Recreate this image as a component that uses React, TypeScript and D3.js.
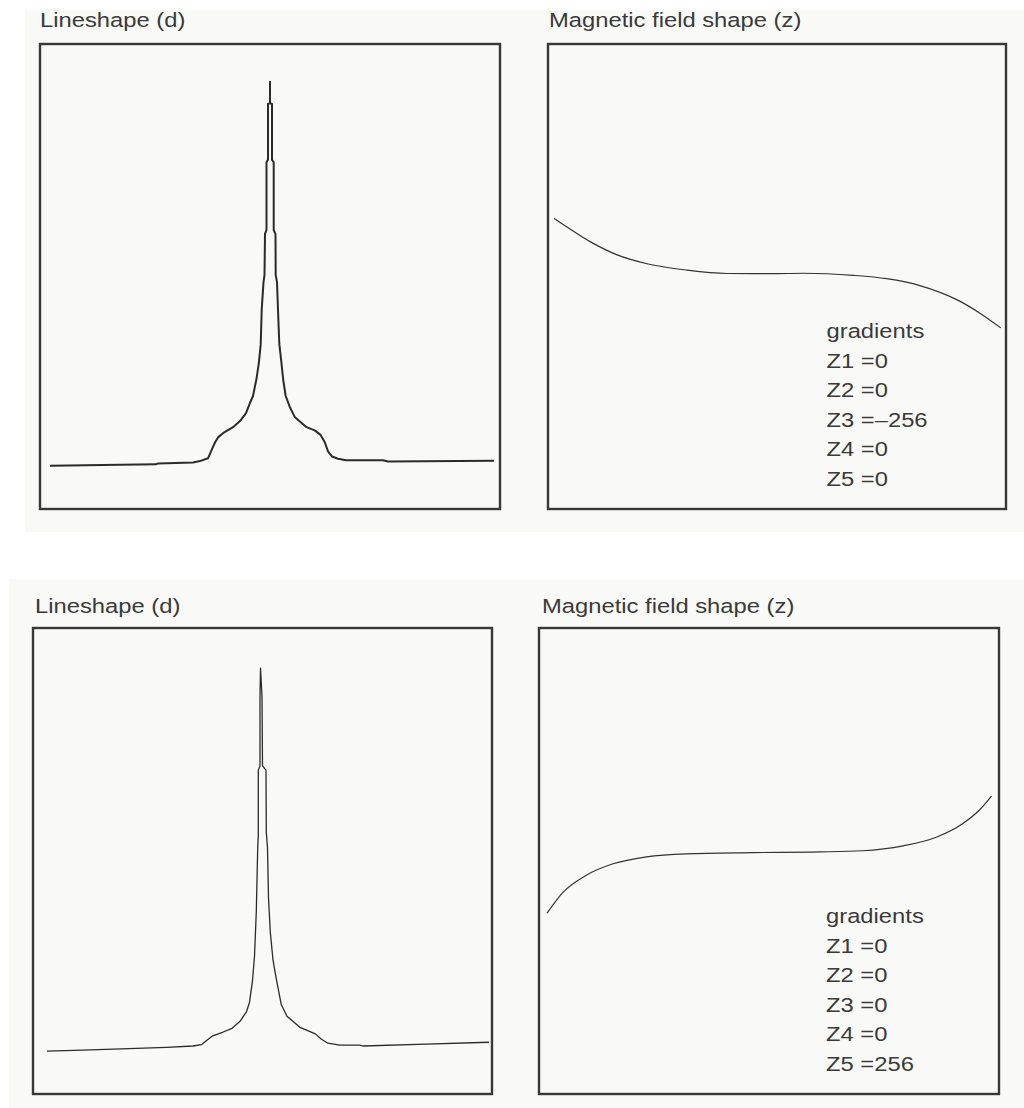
import React from "react";
import * as d3 from "d3";

// ---- Data ----
// Top lineshape (frequency offset, intensity %)
const freqTop = [-220,-114,-112,-77,-70,-62,-59,-55,-52,-47,-37,-30,-24,-20,-17,-13.5,-11,-9.3,-8.3,-6.5,-5.5,-5,-3.5,-3.5,-2,-2,0,0,0,2,2,3.7,3.7,5.5,5.7,7,8,9.3,11.3,13.2,15.7,19.7,24.7,36.5,44.7,50.3,54.7,58,62,68,76,113,118,224];
const intTop = [9.3,9.6,9.8,10.0,10.3,10.9,12.4,14.3,15.4,16.3,17.6,18.9,20.6,22.8,24.3,28.0,31.7,35.4,42.8,48.8,50.3,59.2,60.0,74.6,75.1,87.1,87.3,91.9,87.3,87.1,75.1,74.6,60.0,59.1,50.3,48.8,42.8,35.5,31.7,27.8,24.3,22.0,19.8,17.6,16.9,16.0,14.4,12.4,11.3,10.8,10.5,10.5,10.2,10.4];

// Bottom lineshape
const freqBottom = [-216,-180,-96,-69.5,-61,-56,-50.5,-39.5,-30.5,-22.5,-16,-13,-10,-8,-6.2,-4.8,-4.2,-4.2,-2.5,-2.5,-2,-0.5,0,3.5,3.8,5,6,7.8,10.5,13.5,18.8,24.5,37.5,53,58.8,65.5,77.5,97.5,100.5,164,227];
const intBottom = [9.2,9.4,10.0,10.3,10.6,11.5,12.4,13.3,14.1,15.6,17.7,19.7,24.4,29.6,39.2,52.9,55.5,69.5,70.4,85.3,91.4,85.3,70.4,69.5,56.2,52.9,42.1,34.8,28.8,25.1,19.2,16.7,14.3,12.9,11.8,10.9,10.5,10.5,10.3,10.7,11.1];

// Magnetic field shape (position, field)
const posTop = [-0.974,-0.894,-0.816,-0.698,-0.568,-0.393,-0.218,-0.03,0.115,0.333,0.479,0.624,0.798,0.886,0.977];
const fieldTop = [25.0,19.8,15.0,9.3,5.5,2.75,1.3,1.2,1.4,0.5,-0.95,-3.9,-10.6,-15.8,-22.1];

const posBottom = [-0.965,-0.896,-0.794,-0.678,-0.533,-0.36,-0.07,0.22,0.406,0.583,0.727,0.843,0.916,0.967];
const fieldBottom = [-22.4,-13.5,-6.1,-1.2,1.8,3.1,3.6,3.9,4.4,6.5,10.2,16.1,22.0,27.9];

// Gradient labels
const gradientNames = ["Z1", "Z2", "Z3", "Z4", "Z5"];
const gradientsTop = [0, 0, -256, 0, 0];
const gradientsBottom = [0, 0, 0, 0, 256];

const titleLine = "Lineshape (d)";
const titleField = "Magnetic field shape (z)";

const FONT = "'Liberation Sans', Arial, Helvetica, sans-serif";
const TXT = "#3a3a3a";
const SX = 1.16;

type Frame = { x0: number; y0: number; x1: number; y1: number };

function Label({ x, y, text, size = 20.5 }: { x: number; y: number; text: string; size?: number }) {
  return (
    <text
      transform={`translate(${x},${y}) scale(${SX},1)`}
      fontFamily={FONT}
      fontSize={size}
      fill={TXT}
    >
      {text}
    </text>
  );
}

function Lineshape({ f, xs, ys, width }: { f: Frame; xs: number[]; ys: number[]; width: number }) {
  const x = d3.scaleLinear().domain([-230, 230]).range([f.x0, f.x1]);
  const y = d3.scaleLinear().domain([0, 100]).range([f.y1, f.y0]);
  const pts = xs.map((v, i) => [v, ys[i]] as [number, number]);
  const line = d3
    .line<[number, number]>()
    .x((d) => x(d[0]))
    .y((d) => y(d[1]))
    .curve(d3.curveLinear);
  return (
    <g>
      <rect x={f.x0} y={f.y0} width={f.x1 - f.x0} height={f.y1 - f.y0} fill="none" stroke="#383838" strokeWidth={2.4} />
      <path d={line(pts) || ""} fill="none" stroke="#2b2b2b" strokeWidth={width} strokeLinejoin="round" />
    </g>
  );
}

function FieldShape({
  f,
  xs,
  ys,
  grads,
  textX,
  textY,
}: {
  f: Frame;
  xs: number[];
  ys: number[];
  grads: number[];
  textX: number;
  textY: number;
}) {
  const x = d3.scaleLinear().domain([-1, 1]).range([f.x0, f.x1]);
  const y = d3.scaleLinear().domain([-100, 100]).range([f.y1, f.y0]);
  const pts = xs.map((v, i) => [v, ys[i]] as [number, number]);
  const line = d3
    .line<[number, number]>()
    .x((d) => x(d[0]))
    .y((d) => y(d[1]))
    .curve(d3.curveMonotoneX);
  const step = 29.5;
  return (
    <g>
      <rect x={f.x0} y={f.y0} width={f.x1 - f.x0} height={f.y1 - f.y0} fill="none" stroke="#383838" strokeWidth={2.4} />
      <path d={line(pts) || ""} fill="none" stroke="#333" strokeWidth={1.2} />
      <Label x={textX} y={textY} text="gradients" />
      {gradientNames.map((n, i) => (
        <Label
          key={n}
          x={textX}
          y={textY + step * (i + 1)}
          text={`${n} =${grads[i] < 0 ? "\u2013" + Math.abs(grads[i]) : grads[i]}`}
        />
      ))}
    </g>
  );
}

export default function App() {
  const fTL: Frame = { x0: 40, y0: 44, x1: 500, y1: 509 };
  const fTR: Frame = { x0: 548, y0: 44, x1: 1006, y1: 509 };
  const fBL: Frame = { x0: 33, y0: 628, x1: 492, y1: 1094 };
  const fBR: Frame = { x0: 539, y0: 628, x1: 999, y1: 1094 };
  return (
    <svg
      width={1024}
      height={1108}
      style={{ position: "absolute", left: 0, top: 0, background: "#ffffff" }}
    >
      <rect x={0} y={0} width={1024} height={1108} fill="#ffffff" />
      <rect x={25} y={10} width={999} height={522} fill="#f9f9f8" />
      <rect x={9} y={579} width={1015} height={529} fill="#f9f9f8" />

      <Label x={40} y={27} text={titleLine} />
      <Label x={549} y={27} text={titleField} />
      <Label x={35} y={613} text={titleLine} />
      <Label x={542} y={613} text={titleField} />

      <Lineshape f={fTL} xs={freqTop} ys={intTop} width={2} />
      <FieldShape f={fTR} xs={posTop} ys={fieldTop} grads={gradientsTop} textX={826.5} textY={338} />
      <Lineshape f={fBL} xs={freqBottom} ys={intBottom} width={1.3} />
      <FieldShape f={fBR} xs={posBottom} ys={fieldBottom} grads={gradientsBottom} textX={826} textY={923} />
    </svg>
  );
}
